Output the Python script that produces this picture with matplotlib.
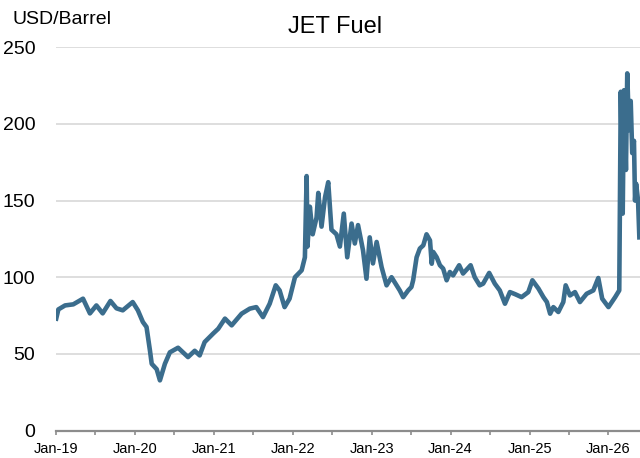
import numpy as np
import matplotlib
matplotlib.use("Agg")
import matplotlib.pyplot as plt
import matplotlib.dates as mdates

plt.rcParams['font.family'] = ['Liberation Sans', 'DejaVu Sans']

# JET fuel price, USD/Barrel
dates = [
    "2019-01-02", "2019-01-12", "2019-02-12", "2019-03-22", "2019-05-06", "2019-06-07",
    "2019-07-07", "2019-08-05", "2019-09-10", "2019-10-08", "2019-11-06", "2019-12-22",
    "2020-01-15", "2020-02-07", "2020-02-24", "2020-03-11", "2020-03-19", "2020-04-11",
    "2020-04-26", "2020-05-19", "2020-06-11", "2020-07-19", "2020-09-03", "2020-10-04",
    "2020-10-27", "2020-11-19", "2020-12-28", "2021-01-21", "2021-02-21", "2021-03-24",
    "2021-05-09", "2021-06-16", "2021-07-16", "2021-08-16", "2021-09-16", "2021-10-14",
    "2021-11-01", "2021-11-24", "2021-12-17", "2022-01-11", "2022-02-11", "2022-02-26",
    "2022-03-06", "2022-03-10", "2022-03-21", "2022-04-03", "2022-04-21", "2022-04-29",
    "2022-05-14", "2022-05-30", "2022-06-14", "2022-06-29", "2022-07-22", "2022-08-07",
    "2022-08-25", "2022-09-10", "2022-09-30", "2022-10-15", "2022-10-30", "2022-11-22",
    "2022-12-08", "2022-12-23", "2023-01-07", "2023-01-24", "2023-02-16", "2023-03-11",
    "2023-04-03", "2023-05-11", "2023-05-27", "2023-06-19", "2023-07-04", "2023-07-12",
    "2023-07-28", "2023-08-12", "2023-08-28", "2023-09-12", "2023-09-28", "2023-10-06",
    "2023-10-13", "2023-10-29", "2023-11-13", "2023-11-28", "2023-12-14", "2023-12-29",
    "2024-01-13", "2024-02-10", "2024-02-28", "2024-04-03", "2024-04-22", "2024-05-15",
    "2024-05-31", "2024-06-28", "2024-07-24", "2024-08-16", "2024-09-09", "2024-10-02",
    "2024-10-25", "2024-11-25", "2024-12-26", "2025-01-14", "2025-02-11", "2025-03-06",
    "2025-03-22", "2025-04-06", "2025-04-21", "2025-05-14", "2025-06-06", "2025-06-17",
    "2025-07-07", "2025-07-30", "2025-08-22", "2025-09-22", "2025-10-23", "2025-11-15",
    "2025-12-03", "2026-01-01", "2026-02-01", "2026-02-20", "2026-02-27", "2026-03-08",
    "2026-03-14", "2026-03-23", "2026-03-29", "2026-04-06", "2026-04-14", "2026-04-21",
    "2026-04-29", "2026-05-04", "2026-05-09", "2026-05-18", "2026-05-24",
]
prices = [
    73, 79, 81.6, 82.3, 86, 76.4,
    81.6, 76.4, 84.5, 79.7, 78.4, 83.8,
    78.4, 70.8, 67.5, 52, 43.5, 40,
    32.7, 43.5, 51, 54, 47.9, 52,
    49, 57.7, 63.2, 66.4, 73, 68.6,
    76.2, 79.5, 80.5, 74, 82.7, 94.7,
    91.4, 80.5, 86, 100, 104.5, 113,
    166, 120, 146, 128, 139, 155,
    133, 152, 162, 131, 128, 120,
    141.5, 113, 135, 122, 134, 117.5,
    99, 126, 109, 123, 106.6, 94.7,
    100, 91.4, 87, 91.4, 93.6, 98,
    113, 118.7, 120.8, 128, 124, 108.8,
    116.5, 113, 107.8, 105.6, 98, 103.4,
    101.2, 107.8, 102.4, 107.8, 100, 94.7,
    95.8, 102.8, 95.8, 91.4, 82.7, 90.3,
    89, 87, 90.3, 98, 92.6, 87,
    83.8, 76.2, 80.5, 77.3, 83.8, 94.7,
    88.1, 90.3, 83.8, 89.2, 91.4, 99.5,
    86, 80.5, 87, 91.4, 221, 141.5,
    222, 170, 233, 196, 215, 181,
    189, 150, 161, 150, 126,
]
yticks = [0, 50, 100, 150, 200, 250]

x = np.array(dates, dtype='datetime64[D]')
y = np.array(prices)

fig = plt.figure(figsize=(6.4, 4.58), dpi=100)
ax = fig.add_axes([56/640, 1 - 430.5/458, 1 - 56/640, (430.5 - 47.3)/458])

ax.plot(x, y, color='#3b6d8d', lw=3.3, solid_joinstyle='round')

ax.set_ylim(0, 250)
ax.set_yticks(yticks)
ax.set_xlim(np.datetime64('2019-01-01'), np.datetime64('2026-05-27'))
ax.xaxis.set_major_locator(mdates.YearLocator())
ax.xaxis.set_minor_locator(mdates.MonthLocator(bymonth=7))
ax.xaxis.set_major_formatter(mdates.DateFormatter('%b-%y'))

ax.grid(axis='y', color='#d4d4d4', lw=1.1)
ax.set_axisbelow(True)
for s in ['top', 'right', 'left']:
    ax.spines[s].set_visible(False)
ax.spines['bottom'].set_color('#8c8c8c')
ax.spines['bottom'].set_linewidth(1.6)

ax.tick_params(axis='y', length=0, pad=15, labelsize=14)
ax.tick_params(axis='x', which='both', direction='out', color='#8c8c8c',
               length=3, width=1.2, pad=5, labelsize=10.5)

fig.text(335/640, 1 - 32.7/458, 'JET Fuel', ha='center', va='baseline', fontsize=17)
fig.text(12/640, 1 - 24/458, 'USD/Barrel', ha='left', va='baseline', fontsize=14)

fig.savefig('out.png', dpi=100)
